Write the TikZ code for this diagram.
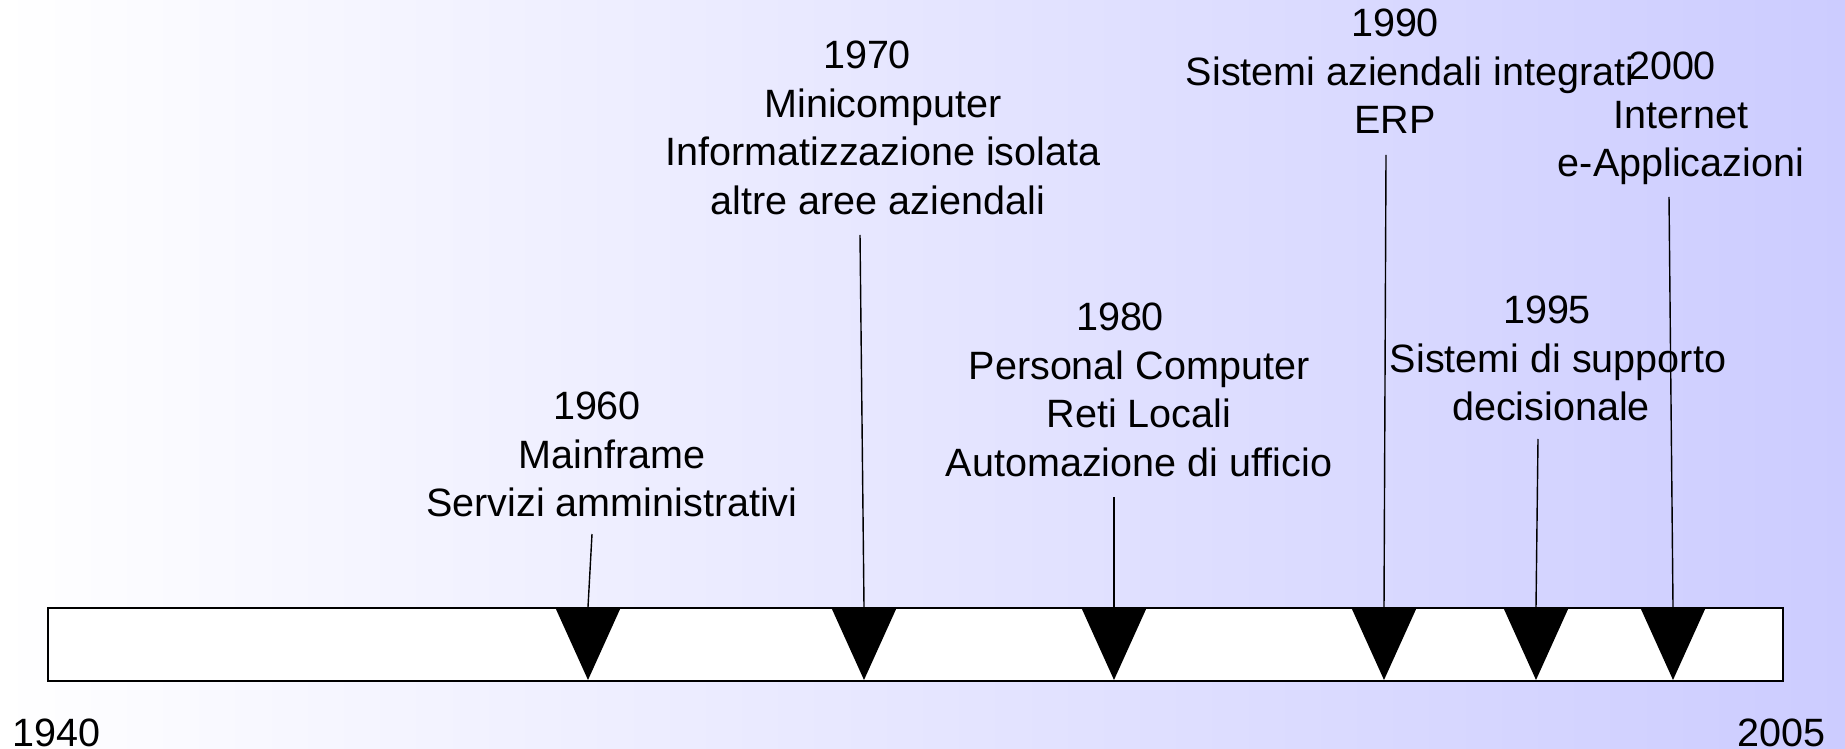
\documentclass[tikz,border=0pt]{standalone}
\usepackage{fontspec}
\setmainfont{Liberation Sans}
\definecolor{bgright}{RGB}{204,204,255}
\newcommand{\pd}[1]{\hspace*{#1cm}}
\begin{document}
\begin{tikzpicture}[x=0.02cm,y=-0.02cm,
  lbl/.style={anchor=north, inner sep=0pt, align=center, font=\fontsize{22.5}{27.6}\selectfont},
  yr/.style={inner sep=0pt, font=\fontsize{22.5}{27.6}\selectfont},
  tick/.style={draw=black, line width=0.8pt},
  marker/.style={fill=black},
  barbox/.style={draw=black, line width=1.1pt, fill=white, inner sep=0pt, anchor=north west, minimum width=34.7cm, minimum height=1.46cm}]
\shade[left color=white, right color=bgright] (0,0) rectangle (1845,749);
\useasboundingbox (0,0) rectangle (1845,749);
% bar
\node[barbox] (bar) at (47,607) {};
% labels
\node[lbl] (l1960) at (612,392) {1960\pd{0.6}\\Mainframe\pd{0.44}\\Servizi amministrativi};
\node[lbl] (l1970) at (883,41) {1970\pd{0.64}\\Minicomputer\pd{0.4}\\Informatizzazione isolata\\altre aree aziendali\pd{0.2}};
\node[lbl] (l1980) at (1139,303) {1980\pd{0.76}\\Personal Computer\pd{0.32}\\Reti Locali\pd{0.68}\\Automazione di ufficio};
\node[lbl] (l1990) at (1395,9) {1990\\\pd{0.6}Sistemi aziendali integrati\\ERP};
\node[lbl] (l1995) at (1558,296) {1995\pd{0.44}\\Sistemi di supporto\\decisionale\pd{0.28}};
\node[lbl] (l2000) at (1681,52) {2000\pd{0.36}\\Internet\pd{0.12}\\e-Applicazioni};
\node[yr, anchor=base west] (y1940) at (12,746) {1940};
\node[yr, anchor=base east] (y2005) at (1826,746) {2005};
% tick tops and triangle tops
\coordinate (s1) at (592,534);
\coordinate (s2) at (860,235);
\coordinate (s3) at (1114,497);
\coordinate (s4) at (1386,155);
\coordinate (s5) at (1538,439);
\coordinate (s6) at (1669,197);
\coordinate (t1) at (588,607);
\coordinate (t2) at (864,607);
\coordinate (t3) at (1114,607);
\coordinate (t4) at (1384,607);
\coordinate (t5) at (1536,607);
\coordinate (t6) at (1673,607);
\foreach \i in {1,...,6}{
  \draw[tick] (s\i) -- (t\i);
  \fill[marker] ([xshift=-0.66cm]t\i) -- ([xshift=0.66cm]t\i) -- ([yshift=-1.46cm]t\i) -- cycle;
}
\end{tikzpicture}
\end{document}
